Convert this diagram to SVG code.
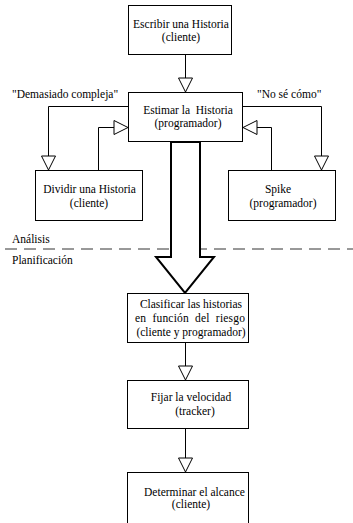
<svg xmlns="http://www.w3.org/2000/svg" width="353" height="523" viewBox="0 0 353 523">
<style>
.box{fill:#fff;stroke:#000;stroke-width:1}
.ln{fill:none;stroke:#000;stroke-width:1}
.head{fill:#fff;stroke:#000;stroke-width:1}
.c{text-anchor:middle}
</style>
<rect width="353" height="523" fill="#fff"/>
<line x1="5" y1="249" x2="353" y2="249" stroke="#333" stroke-width="1" stroke-dasharray="12 7"/>
<g font-family="Liberation Serif" font-size="11.5">
<text x="12" y="243">Análisis</text>
<text x="12" y="264">Planificación</text>
</g>
<g id="connectors">
<path class="ln" d="M185.5,55 V78"/>
<polygon class="head" points="178.5,78 192.5,78 185.5,92"/>
<path class="ln" d="M128,106.5 H48.5 V156"/>
<polygon class="head" points="41.5,156 55.5,156 48.5,170"/>
<path class="ln" d="M98.5,170 V127.5 H114"/>
<polygon class="head" points="114,120.5 114,134.5 128,127.5"/>
<path class="ln" d="M243,106.5 H321.5 V156"/>
<polygon class="head" points="314.5,156 328.5,156 321.5,170"/>
<path class="ln" d="M271.5,170 V127.5 H257"/>
<polygon class="head" points="257,120.5 257,134.5 243,127.5"/>
<polygon points="171,142 171,257 156,257 185,293 214,257 200,257 200,142" fill="#fff" stroke="#000" stroke-width="2"/>
<path class="ln" d="M185.5,343 V366"/>
<polygon class="head" points="178.5,366 192.5,366 185.5,380"/>
<path class="ln" d="M185.5,429 V458"/>
<polygon class="head" points="178.5,458 192.5,458 185.5,472"/>
</g>
<g font-family="Liberation Serif" font-size="11.5">
<g id="n1">
<rect class="box" x="128.5" y="5.5" width="103" height="49"/>
<text class="c" x="181" y="28">Escribir una Historia</text>
<text class="c" x="181" y="41">(cliente)</text>
</g>
<g id="n2">
<rect class="box" x="128.5" y="92.5" width="114" height="49"/>
<text class="c" x="188" y="114" xml:space="preserve">Estimar la  Historia</text>
<text class="c" x="188" y="127">(programador)</text>
</g>
<g id="n3">
<rect class="box" x="35.5" y="170.5" width="107" height="50"/>
<text class="c" x="89.5" y="193">Dividir una Historia</text>
<text class="c" x="89" y="207">(cliente)</text>
</g>
<g id="n4">
<rect class="box" x="228.5" y="170.5" width="107" height="50"/>
<text class="c" x="278" y="193">Spike</text>
<text class="c" x="283" y="207">(programador)</text>
</g>
<g id="n5">
<rect class="box" x="127.5" y="293.5" width="121" height="49"/>
<text class="c" x="191" y="308">Clasificar las historias</text>
<text x="135" y="322" textLength="110" xml:space="preserve">en  función  del  riesgo</text>
<text class="c" x="191" y="336">(cliente y programador)</text>
</g>
<g id="n6">
<rect class="box" x="127.5" y="380.5" width="121" height="48"/>
<text class="c" x="191" y="401">Fijar la velocidad</text>
<text class="c" x="195" y="415">(tracker)</text>
</g>
<g id="n7">
<rect class="box" x="127.5" y="472.5" width="121" height="60"/>
<text class="c" x="194.5" y="496">Determinar el alcance</text>
<text class="c" x="191" y="508">(cliente)</text>
</g>
<text x="12" y="98">"Demasiado compleja"</text>
<text x="257" y="98">"No sé cómo"</text>
</g>
</svg>
